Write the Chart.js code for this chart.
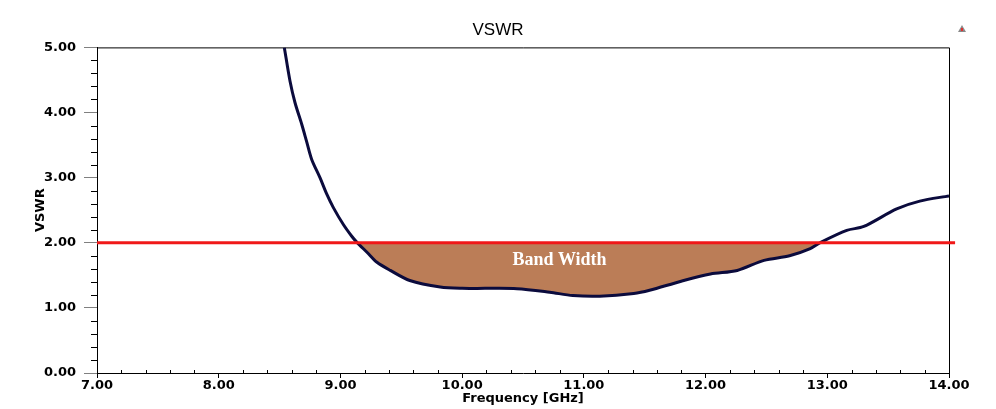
<!DOCTYPE html>
<html>
<head>
<meta charset="utf-8">
<title>VSWR</title>
<script src="https://cdn.jsdelivr.net/npm/chart.js@4/dist/chart.umd.min.js"></script>
<style>
  html, body { margin: 0; padding: 0; background: #fff; }
  #wrap { width: 996px; height: 409px; position: relative; }
</style>
</head>
<body>
<div id="wrap"><canvas id="vswrChart"></canvas></div>
<script>
// Data
const freqGHz = [8.539, 8.586, 8.627, 8.682, 8.723, 8.764, 8.832, 8.887, 8.942, 9.024, 9.093, 9.134, 9.22,
  9.30, 9.41, 9.57, 9.82, 10.0, 10.2, 10.45, 10.72, 10.91, 11.13, 11.41, 11.54, 11.80, 12.04, 12.26, 12.48,
  12.69, 12.86, 12.95, 13.16, 13.30, 13.57, 13.76, 14.0];
const vswr = [5.00, 4.48, 4.15, 3.82, 3.55, 3.28, 3.00, 2.75, 2.54, 2.28, 2.10, 2.01, 1.85,
  1.70, 1.575, 1.42, 1.32, 1.30, 1.30, 1.295, 1.24, 1.19, 1.18, 1.22, 1.27, 1.41, 1.52, 1.575, 1.73,
  1.80, 1.91, 2.01, 2.19, 2.25, 2.52, 2.64, 2.72];
const limitFreq = [7.0, 14.05];
const limitVswr = [2.0, 2.0];
const xTicks = [7, 8, 9, 10, 11, 12, 13, 14];
const yTicks = [0, 1, 2, 3, 4, 5];
const bandLabel = 'Band Width';
const bandLabelPos = { x: 10.80, y: 1.73 };

const curvePoints = freqGHz.map((f, i) => ({ x: f, y: vswr[i] }));
const limitPoints = limitFreq.map((f, i) => ({ x: f, y: limitVswr[i] }));

const TICK_FONT = { family: 'DejaVu Sans', size: 13, weight: 'bold' };

// frame, minor ticks, band label and the little corner marker
const decorations = {
  id: 'decorations',
  beforeDatasetsDraw(chart) {
    const { ctx, chartArea: a, scales: { x, y } } = chart;
    ctx.save();
    ctx.strokeStyle = '#000';
    ctx.lineWidth = 1;
    ctx.beginPath();
    // frame top + right
    ctx.moveTo(a.left, a.top + 0.5);
    ctx.lineTo(a.right + 0.5, a.top + 0.5);
    ctx.lineTo(a.right + 0.5, a.bottom);
    // minor ticks on y (outside, left)
    for (let v = 0; v <= 5.0001; v += 0.2) {
      if (Math.abs(v - Math.round(v)) < 1e-6) continue;
      const py = Math.round(y.getPixelForValue(v)) + 0.5;
      ctx.moveTo(a.left - 6, py);
      ctx.lineTo(a.left, py);
    }
    // minor ticks on x (inside, short)
    for (let v = 7; v <= 14.0001; v += 0.2) {
      if (Math.abs(v - Math.round(v)) < 1e-6) continue;
      const px = Math.round(x.getPixelForValue(v)) + 0.5;
      ctx.moveTo(px, a.bottom);
      ctx.lineTo(px, a.bottom - 3);
    }
    ctx.stroke();
    ctx.restore();
  },
  afterDatasetsDraw(chart) {
    const { ctx, scales: { x, y } } = chart;
    ctx.save();
    ctx.fillStyle = '#ffffff';
    ctx.font = 'bold 18px "Liberation Serif", "Times New Roman", serif';
    ctx.textAlign = 'center';
    ctx.textBaseline = 'middle';
    ctx.fillText(bandLabel, x.getPixelForValue(bandLabelPos.x), y.getPixelForValue(bandLabelPos.y));

    // small warning triangle in the top right corner
    ctx.beginPath();
    ctx.moveTo(962, 25);
    ctx.lineTo(958, 32);
    ctx.lineTo(966, 32);
    ctx.closePath();
    ctx.fillStyle = '#8a8a8a';
    ctx.fill();
    ctx.fillStyle = '#e03030';
    ctx.fillRect(961, 28, 2, 3);
    ctx.restore();
  }
};

const ctx = document.getElementById('vswrChart').getContext('2d');
new Chart(ctx, {
  type: 'line',
  data: {
    datasets: [
      {
        label: 'VSWR = 2',
        data: limitPoints,
        borderColor: '#f01818',
        borderWidth: 3,
        pointRadius: 0,
        fill: false,
        clip: false
      },
      {
        label: 'VSWR',
        data: curvePoints,
        borderColor: '#0b0b3d',
        borderWidth: 3,
        pointRadius: 0,
        tension: 0.3,
        fill: { target: { value: 2 }, above: 'rgba(0,0,0,0)', below: '#bb7d57' }
      }
    ]
  },
  options: {
    responsive: true,
    maintainAspectRatio: false,
    animation: false,
    layout: { padding: 0 },
    plugins: {
      legend: { display: false },
      tooltip: { enabled: false },
      title: {
        display: true,
        text: 'VSWR',
        color: '#000',
        font: { family: 'Liberation Sans', size: 17, weight: 'normal' },
        padding: { top: 20, bottom: 7 }
      }
    },
    scales: {
      x: {
        type: 'linear',
        min: 7,
        max: 14,
        afterFit: (s) => { s.height = 36; },
        afterBuildTicks: (s) => { s.ticks = xTicks.map(v => ({ value: v })); },
        border: { display: true, color: '#000', width: 1 },
        grid: { drawOnChartArea: false, drawTicks: true, tickLength: 5, color: '#000' },
        ticks: {
          color: '#000',
          font: TICK_FONT,
          padding: 0,
          maxRotation: 0,
          callback: (v) => Number(v).toFixed(2)
        },
        title: {
          display: true,
          text: 'Frequency [GHz]',
          color: '#000',
          font: { family: 'DejaVu Sans', size: 13, weight: 'bold' },
          padding: { top: 0, bottom: 3 }
        }
      },
      y: {
        min: 0,
        max: 5,
        afterFit: (s) => { s.width = 97; },
        afterBuildTicks: (s) => { s.ticks = yTicks.map(v => ({ value: v })); },
        border: { display: true, color: '#000', width: 1 },
        grid: { drawOnChartArea: false, drawTicks: true, tickLength: 13, color: '#808080' },
        ticks: {
          color: '#000',
          font: TICK_FONT,
          padding: 8,
          callback: (v) => Number(v).toFixed(2)
        },
        title: {
          display: true,
          text: 'VSWR',
          color: '#000',
          font: { family: 'DejaVu Sans', size: 13, weight: 'bold' },
          padding: { top: 33, bottom: 0 }
        }
      },
      // empty right-hand box, keeps the plot at the reference width
      yRight: {
        position: 'right',
        min: 0,
        max: 5,
        afterFit: (s) => { s.width = 47; },
        border: { display: false },
        grid: { display: false },
        ticks: { display: false }
      }
    }
  },
  plugins: [decorations]
});
</script>
</body>
</html>
